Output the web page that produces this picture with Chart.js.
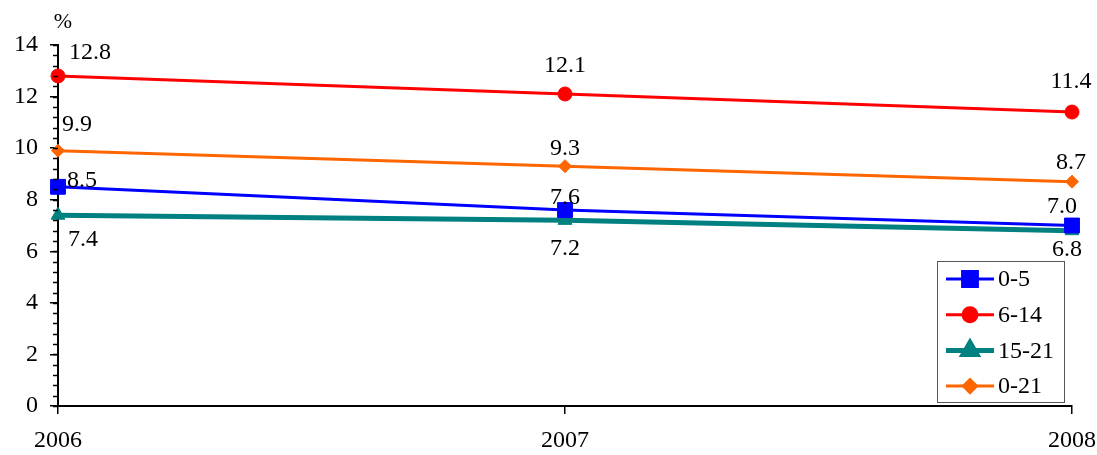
<!DOCTYPE html>
<html>
<head>
<meta charset="utf-8">
<script src="https://cdn.jsdelivr.net/npm/chart.js@4"></script>
<style>
  html, body { margin: 0; padding: 0; background: #fff; }
  #wrap { width: 1097px; height: 455px; }
</style>
</head>
<body>
<div id="wrap"><canvas id="myChart" width="1097" height="455"></canvas></div>
<script>
const years = ["2006", "2007", "2008"];
const age0to5 = [8.5, 7.6, 7.0];
const age6to14 = [12.8, 12.1, 11.4];
const age15to21 = [7.4, 7.2, 6.8];
const age0to21 = [9.9, 9.3, 8.7];
const yTicks = [0, 2, 4, 6, 8, 10, 12, 14];

const FONT = "Liberation Serif";

// value label offsets per point (like excel placed them)
const series = [
  { label: "0-5", data: age0to5, color: "#0000FF", width: 3, style: "rect", radius: 10.5, dx: [9, 0, -10], dy: [-6, -12, -19] },
  { label: "6-14", data: age6to14, color: "#FF0000", width: 3, style: "circle", radius: 7, dx: [11, 0, -1], dy: [-23, -28, -30] },
  { label: "15-21", data: age15to21, color: "#008080", width: 5, style: "triangle", radius: 8, dx: [10, 0, -5], dy: [25, 28, 19] },
  { label: "0-21", data: age0to21, color: "#FF6600", width: 3, style: "rectRot", radius: 6.5, dx: [4, 0, -1], dy: [-26, -17, -19] },
];

const extras = {
  id: "extras",
  afterDatasetsDraw(chart) {
    const ctx = chart.ctx;
    const y = chart.scales.y;
    const area = chart.chartArea;
    ctx.save();
    // minor ticks
    ctx.strokeStyle = "#000";
    ctx.lineWidth = 1.5;
    for (let v = 0; v <= 14.001; v += 0.4) {
      const py = Math.round(y.getPixelForValue(v)) + 0.5;
      ctx.beginPath();
      ctx.moveTo(area.left - 5, py);
      ctx.lineTo(area.left, py);
      ctx.stroke();
    }
    // "%" unit
    ctx.fillStyle = "#000";
    ctx.font = "22px '" + FONT + "'";
    ctx.textAlign = "center";
    ctx.textBaseline = "middle";
    ctx.fillText("%", 63, 22);

    // data labels
    ctx.font = "24px '" + FONT + "'";
    chart.data.datasets.forEach((ds, i) => {
      const meta = chart.getDatasetMeta(i);
      const s = series[i];
      meta.data.forEach((pt, j) => {
        ctx.textAlign = j === 0 ? "left" : "center";
        ctx.fillText(ds.data[j].toFixed(1), pt.x + s.dx[j], pt.y + s.dy[j]);
      });
    });

    // legend box
    const bx = 937, by = 261, bw = 127, bh = 141;
    ctx.fillStyle = "#fff";
    ctx.fillRect(bx, by, bw, bh);
    ctx.strokeStyle = "#555";
    ctx.lineWidth = 1;
    ctx.strokeRect(bx + 0.5, by + 0.5, bw, bh);
    series.forEach((s, i) => {
      const ly = 279 + i * 35.7;
      ctx.strokeStyle = s.color;
      ctx.lineWidth = s.width;
      ctx.beginPath();
      ctx.moveTo(946, ly);
      ctx.lineTo(994, ly);
      ctx.stroke();
      ctx.fillStyle = s.color;
      Chart.helpers.drawPoint(ctx, { pointStyle: s.style, radius: s.radius, borderWidth: 1 }, 970, ly);
      ctx.fillStyle = "#000";
      ctx.textAlign = "left";
      ctx.font = "24px '" + FONT + "'";
      ctx.fillText(s.label, 998, ly + 1);
    });
    ctx.restore();
  },
};

const chartElement = document.getElementById("myChart");
const myChart = new Chart(chartElement, {
  type: "line",
  data: {
    labels: years,
    datasets: series.map((s) => ({
      label: s.label,
      data: s.data,
      borderColor: s.color,
      backgroundColor: s.color,
      borderWidth: s.width,
      pointStyle: s.style,
      pointRadius: s.radius,
      pointBorderWidth: 1,
      pointHoverRadius: s.radius,
      tension: 0,
    })),
  },
  options: {
    responsive: false,
    animation: false,
    layout: { padding: { top: 45, right: 0, left: 0, bottom: 0 } },
    plugins: {
      legend: { display: false },
      tooltip: { enabled: false },
    },
    scales: {
      x: {
        offset: false,
        grid: { drawOnChartArea: false, color: "#000", tickLength: 8, lineWidth: 1.5 },
        border: { color: "#000", width: 2 },
        ticks: { color: "#000", font: { family: FONT, size: 24 }, padding: 12, maxRotation: 0 },
        afterFit: (scale) => {
          scale.height = 49;
          scale.paddingLeft = 0;
          scale.paddingRight = 25;
        },
      },
      y: {
        min: 0,
        max: 14,
        afterBuildTicks: (scale) => { scale.ticks = yTicks.map((v) => ({ value: v })); },
        grid: { drawOnChartArea: false, color: "#000", tickLength: 8, lineWidth: 1.5 },
        border: { color: "#000", width: 2 },
        ticks: { color: "#000", font: { family: FONT, size: 24 }, padding: 12 },
        afterFit: (scale) => { scale.width = 58; },
      },
    },
  },
  plugins: [extras],
});
</script>
</body>
</html>
